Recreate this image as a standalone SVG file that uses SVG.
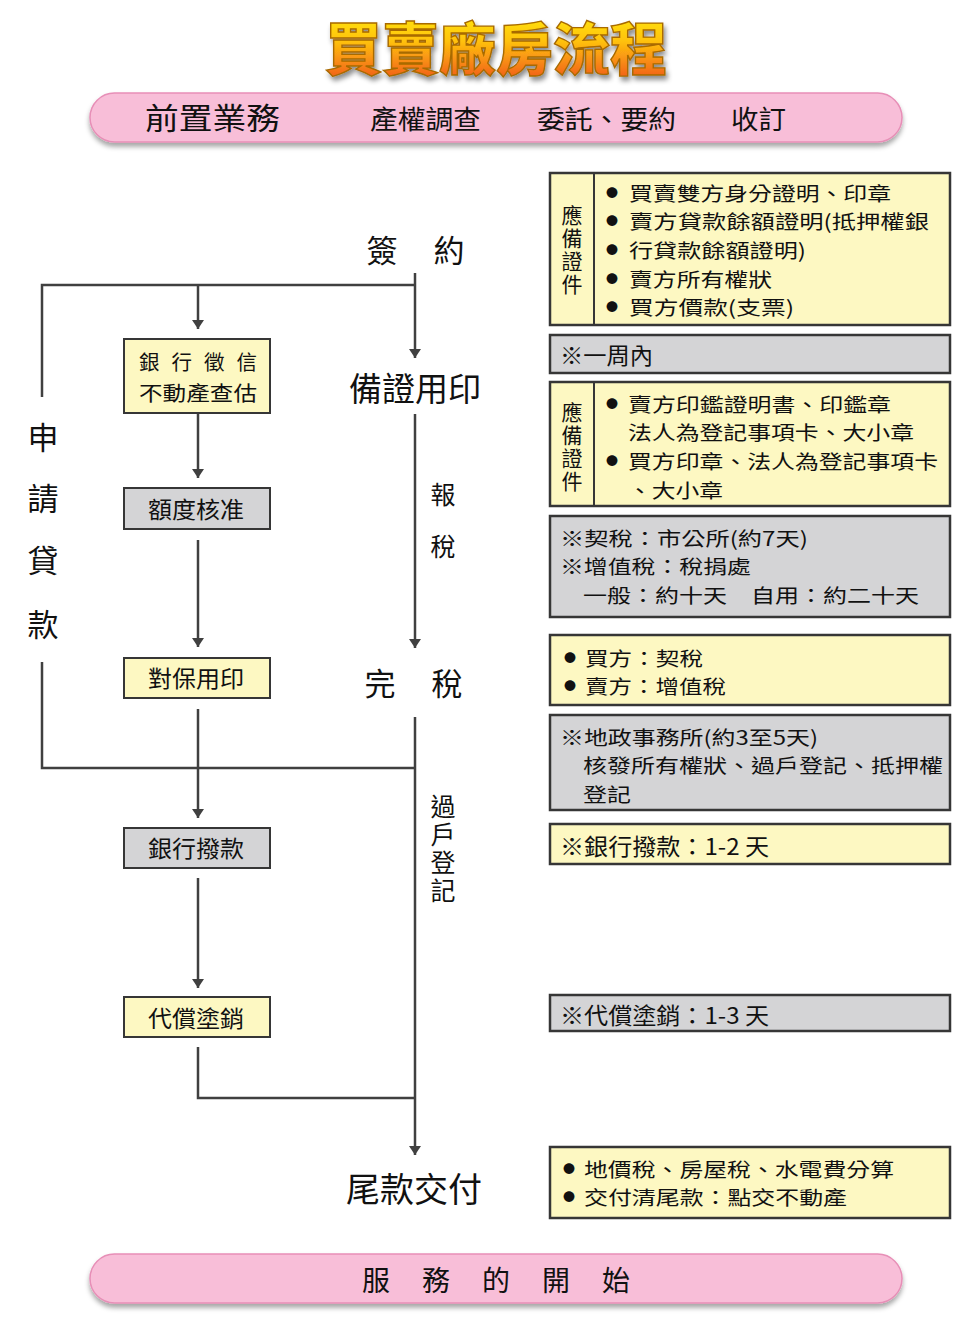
<svg xmlns="http://www.w3.org/2000/svg" width="980" height="1331" viewBox="0 0 980 1331">
<defs>
<linearGradient id="tg" x1="0" y1="0" x2="0" y2="1">
<stop offset="0" stop-color="#fff200"/>
<stop offset="0.45" stop-color="#ffc20e"/>
<stop offset="1" stop-color="#ee4a1c"/>
</linearGradient>
<filter id="ts" x="-10%" y="-20%" width="120%" height="160%">
<feDropShadow dx="2" dy="4" stdDeviation="2.5" flood-color="#000" flood-opacity="0.45"/>
</filter>
<filter id="ps" x="-5%" y="-30%" width="110%" height="180%">
<feDropShadow dx="0" dy="4" stdDeviation="2.5" flood-color="#000" flood-opacity="0.35"/>
</filter>
<marker id="arr" markerUnits="userSpaceOnUse" viewBox="0 0 9 12" refX="9" refY="6" markerWidth="9" markerHeight="12" orient="auto">
<path d="M0,0 L9,6 L0,12 z" fill="#404040"/>
</marker>
</defs>
<style>
text{font-family:"Noto Sans CJK TC","Noto Sans CJK SC",sans-serif;fill:#111;dominant-baseline:central}
.v{writing-mode:vertical-rl;text-anchor:middle}
.pill{fill:#f8bed8;stroke:#e78fb7;stroke-width:1.5}
.yb{fill:#fdf8c2;stroke:#363636;stroke-width:2.5}
.gb{fill:#d4d4d6;stroke:#363636;stroke-width:2.5}
.lb{fill:#fdf8c2;stroke:#363636;stroke-width:2}
.lg{fill:#d4d4d6;stroke:#363636;stroke-width:2}
.ln{fill:none;stroke:#404040;stroke-width:2.5}
.a{marker-end:url(#arr)}
.r{font-size:22.5px}
.m{font-size:19.6px}
.c{font-size:21px;letter-spacing:2px}
.bu{font-size:12px}
.big{font-size:31px}
.box{font-size:23px}
.box2{font-size:20.5px}
</style>
<rect width="980" height="1331" fill="#fff"/>

<g id="title">
<text x="496" y="45" text-anchor="middle" font-size="57" font-weight="900" fill="url(#tg)" stroke="#a86a00" stroke-width="1.4" filter="url(#ts)" style="fill:url(#tg)">買賣廠房流程</text>
</g>

<g id="top-bar">
<rect class="pill" x="90" y="93" width="812" height="49" rx="24.5" filter="url(#ps)"/>
<text x="145" y="116" font-size="30" textLength="135" lengthAdjust="spacingAndGlyphs">前置業務</text>
<text x="370" y="117" font-size="26" textLength="111" lengthAdjust="spacingAndGlyphs">產權調查</text>
<text x="537" y="117" font-size="26" textLength="139" lengthAdjust="spacingAndGlyphs">委託、要約</text>
<text x="731" y="117" font-size="26" textLength="55" lengthAdjust="spacingAndGlyphs">收訂</text>
</g>

<g id="connectors">
<path class="ln" d="M42,397 L42,285 L415,285"/>
<path class="ln a" d="M415,273 L415,358"/>
<path class="ln a" d="M198,285 L198,329"/>
<path class="ln a" d="M198,413 L198,478"/>
<path class="ln a" d="M198,540 L198,647"/>
<path class="ln a" d="M415,414 L415,648"/>
<path class="ln" d="M42,662 L42,768 L415,768"/>
<path class="ln a" d="M198,709 L198,818"/>
<path class="ln a" d="M415,717 L415,1155"/>
<path class="ln a" d="M198,878 L198,988"/>
<path class="ln" d="M198,1047 L198,1098 L415,1098"/>
</g>

<g id="sign">
<text class="big" x="382" y="248" text-anchor="middle">簽</text>
<text class="big" x="449" y="248" text-anchor="middle">約</text>
</g>
<g id="prep">
<text x="415" y="387" text-anchor="middle" font-size="33">備證用印</text>
</g>
<g id="tax-label">
<text x="443" y="493" text-anchor="middle" font-size="25">報</text>
<text x="443" y="545" text-anchor="middle" font-size="25">稅</text>
</g>
<g id="tax-done">
<text class="big" x="380" y="681" text-anchor="middle">完</text>
<text class="big" x="447" y="681" text-anchor="middle">稅</text>
</g>
<g id="transfer-label">
<text class="v" x="443" y="850" font-size="25" letter-spacing="3">過戶登記</text>
</g>
<g id="final">
<text x="414" y="1187" text-anchor="middle" font-size="34">尾款交付</text>
</g>
<g id="loan-label">
<text class="big" x="43" y="435" text-anchor="middle">申</text>
<text class="big" x="43" y="496" text-anchor="middle">請</text>
<text class="big" x="43" y="558" text-anchor="middle">貸</text>
<text class="big" x="43" y="622" text-anchor="middle">款</text>
</g>

<g id="n-credit">
<rect class="lb" x="124" y="339" width="146" height="74"/>
<text class="box2" x="139" y="361" textLength="118" lengthAdjust="spacing">銀 行 徵 信</text>
<text class="box2" x="139" y="391.5" textLength="118" lengthAdjust="spacingAndGlyphs">不動產查估</text>
</g>
<g id="n-approve">
<rect class="lg" x="124" y="488" width="146" height="41"/>
<text class="box" x="196" y="508" text-anchor="middle" textLength="96" lengthAdjust="spacingAndGlyphs">額度核准</text>
</g>
<g id="n-sign">
<rect class="lb" x="124" y="658" width="146" height="40"/>
<text class="box" x="196" y="677" text-anchor="middle" textLength="96" lengthAdjust="spacingAndGlyphs">對保用印</text>
</g>
<g id="n-fund">
<rect class="lg" x="124" y="828" width="146" height="40"/>
<text class="box" x="196" y="847" text-anchor="middle" textLength="96" lengthAdjust="spacingAndGlyphs">銀行撥款</text>
</g>
<g id="n-payoff">
<rect class="lb" x="124" y="997" width="146" height="40"/>
<text class="box" x="196" y="1017" text-anchor="middle" textLength="96" lengthAdjust="spacingAndGlyphs">代償塗銷</text>
</g>

<g id="info-docs1">
<rect class="yb" x="550" y="173" width="400" height="152"/>
<line x1="594" y1="173" x2="594" y2="325" stroke="#363636" stroke-width="2"/>
<text class="v c" x="572" y="251">應備證件</text>
<text class="bu" x="612" y="192" text-anchor="middle">●</text>
<text class="bu" x="612" y="220.7" text-anchor="middle">●</text>
<text class="bu" x="612" y="249.4" text-anchor="middle">●</text>
<text class="bu" x="612" y="278.1" text-anchor="middle">●</text>
<text class="bu" x="612" y="306.8" text-anchor="middle">●</text>
<text class="m" x="629" y="192" textLength="262" lengthAdjust="spacingAndGlyphs">買賣雙方身分證明、印章</text>
<text class="m" x="629" y="220.7" textLength="300" lengthAdjust="spacingAndGlyphs">賣方貸款餘額證明(抵押權銀</text>
<text class="m" x="629" y="249.4" textLength="177" lengthAdjust="spacingAndGlyphs">行貸款餘額證明)</text>
<text class="m" x="629" y="278.1" textLength="143" lengthAdjust="spacingAndGlyphs">賣方所有權狀</text>
<text class="m" x="629" y="306.8" textLength="165" lengthAdjust="spacingAndGlyphs">買方價款(支票)</text>
</g>
<g id="info-week">
<rect class="gb" x="550" y="335" width="400" height="38"/>
<text class="r" x="560" y="354" textLength="93" lengthAdjust="spacingAndGlyphs">※一周內</text>
</g>
<g id="info-docs2">
<rect class="yb" x="550" y="382" width="400" height="124"/>
<line x1="594" y1="382" x2="594" y2="506" stroke="#363636" stroke-width="2"/>
<text class="v c" x="572" y="448">應備證件</text>
<text class="bu" x="612" y="403" text-anchor="middle">●</text>
<text class="bu" x="612" y="460.4" text-anchor="middle">●</text>
<text class="m" x="628" y="403" textLength="263" lengthAdjust="spacingAndGlyphs">賣方印鑑證明書、印鑑章</text>
<text class="m" x="628" y="431.7" textLength="286" lengthAdjust="spacingAndGlyphs">法人為登記事項卡、大小章</text>
<text class="m" x="628" y="460.4" textLength="310" lengthAdjust="spacingAndGlyphs">買方印章、法人為登記事項卡</text>
<text class="m" x="628" y="489.1" textLength="95" lengthAdjust="spacingAndGlyphs">、大小章</text>
</g>
<g id="info-tax">
<rect class="gb" x="550" y="516" width="400" height="101"/>
<text class="m" x="560" y="537" textLength="248" lengthAdjust="spacingAndGlyphs">※契稅：市公所(約7天)</text>
<text class="m" x="560" y="565.7" textLength="191" lengthAdjust="spacingAndGlyphs">※增值稅：稅捐處</text>
<text class="m" x="583" y="594.4" textLength="336" lengthAdjust="spacingAndGlyphs">一般：約十天　自用：約二十天</text>
</g>
<g id="info-taxpay">
<rect class="yb" x="550" y="635" width="400" height="70"/>
<text class="bu" x="570" y="657" text-anchor="middle">●</text>
<text class="bu" x="570" y="685.7" text-anchor="middle">●</text>
<text class="m" x="585" y="657" textLength="118" lengthAdjust="spacingAndGlyphs">買方：契稅</text>
<text class="m" x="585" y="685.7" textLength="141" lengthAdjust="spacingAndGlyphs">賣方：增值稅</text>
</g>
<g id="info-land">
<rect class="gb" x="550" y="715" width="400" height="95"/>
<text class="m" x="560" y="736" textLength="258" lengthAdjust="spacingAndGlyphs">※地政事務所(約3至5天)</text>
<text class="m" x="583" y="764.7" textLength="360" lengthAdjust="spacingAndGlyphs">核發所有權狀、過戶登記、抵押權</text>
<text class="m" x="583" y="793.4" textLength="48" lengthAdjust="spacingAndGlyphs">登記</text>
</g>
<g id="info-fund">
<rect class="yb" x="550" y="824" width="400" height="40"/>
<text class="r" x="560" y="845" textLength="209" lengthAdjust="spacingAndGlyphs">※銀行撥款：1-2 天</text>
</g>
<g id="info-payoff">
<rect class="gb" x="550" y="995" width="400" height="36"/>
<text class="r" x="560" y="1014" textLength="209" lengthAdjust="spacingAndGlyphs">※代償塗銷：1-3 天</text>
</g>
<g id="info-final">
<rect class="yb" x="550" y="1147" width="400" height="71"/>
<text class="bu" x="569" y="1168" text-anchor="middle">●</text>
<text class="bu" x="569" y="1196.7" text-anchor="middle">●</text>
<text class="m" x="584" y="1168" textLength="310" lengthAdjust="spacingAndGlyphs">地價稅、房屋稅、水電費分算</text>
<text class="m" x="584" y="1196.7" textLength="263" lengthAdjust="spacingAndGlyphs">交付清尾款：點交不動產</text>
</g>

<g id="bottom-bar">
<rect class="pill" x="90" y="1254" width="812" height="49" rx="24.5" filter="url(#ps)"/>
<text x="376" y="1279" text-anchor="middle" font-size="28">服</text>
<text x="436" y="1279" text-anchor="middle" font-size="28">務</text>
<text x="496" y="1279" text-anchor="middle" font-size="28">的</text>
<text x="556" y="1279" text-anchor="middle" font-size="28">開</text>
<text x="616" y="1279" text-anchor="middle" font-size="28">始</text>
</g>
</svg>
